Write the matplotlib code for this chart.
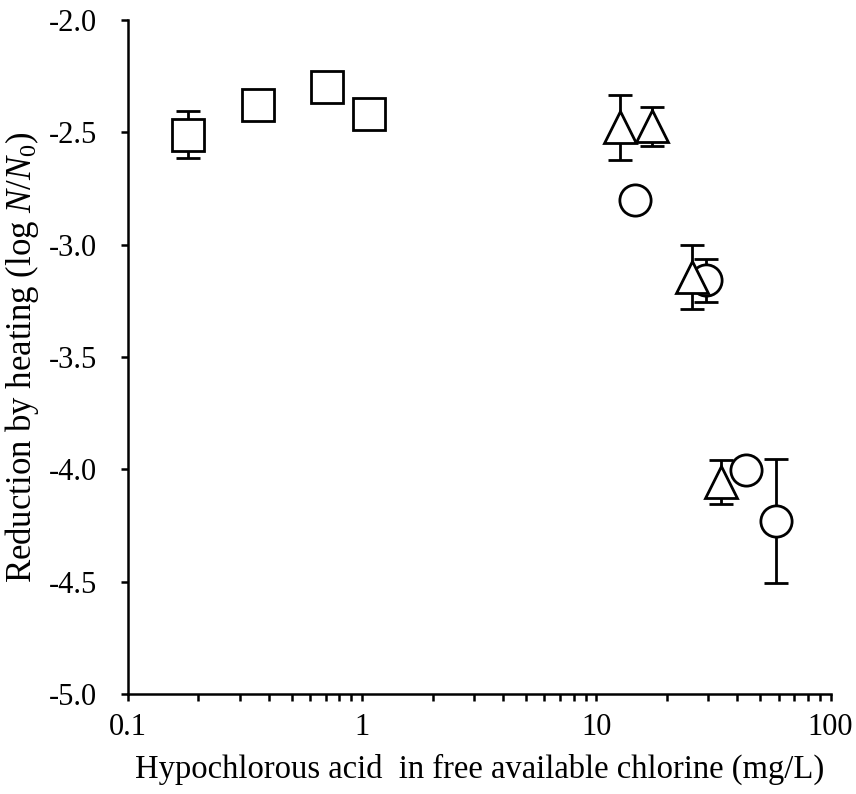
import matplotlib.pyplot as plt
from matplotlib.ticker import FixedLocator, LogLocator, NullFormatter

plt.rcParams['font.family'] = ['Liberation Serif', 'DejaVu Serif']
plt.rcParams['mathtext.fontset'] = 'custom'
plt.rcParams['mathtext.rm'] = 'Liberation Serif'
plt.rcParams['mathtext.it'] = 'Liberation Serif:italic'

# squares
sq_x = [0.18, 0.36, 0.71, 1.07]
sq_y = [-2.51, -2.38, -2.30, -2.42]
sq_err = [0.105, 0.0, 0.0, 0.0]

# triangles
tri_x = [12.6, 17.2, 25.5, 33.9]
tri_y = [-2.478, -2.472, -3.143, -4.056]
tri_err = [0.145, 0.087, 0.143, 0.098]

# circles
cir_x = [14.6, 29.4, 43.7, 58.2]
cir_y = [-2.80, -3.158, -4.003, -4.23]
cir_err = [0.0, 0.096, 0.0, 0.276]

fig = plt.figure(figsize=(8.56, 7.94), dpi=100)
ax = fig.add_axes([0.1495, 0.1259, 0.9703 - 0.1495, 0.9748 - 0.1259])

style = dict(linestyle='none', color='black', ecolor='black', elinewidth=2,
             capsize=8.5, capthick=2, markersize=22.5, markeredgewidth=2,
             markerfacecolor='white', markeredgecolor='black')

ax.errorbar(sq_x, sq_y, yerr=sq_err, fmt='s', zorder=3, **style)
ax.errorbar(cir_x, cir_y, yerr=cir_err, fmt='o', zorder=3, **style)
ax.errorbar(tri_x, tri_y, yerr=tri_err, fmt='^', zorder=4, **style)

ax.set_xscale('log')
ax.set_xlim(0.1, 100)
ax.set_ylim(-5.0, -2.0)

ax.xaxis.set_major_locator(FixedLocator([0.1, 1, 10, 100]))
ax.set_xticklabels(['0.1', '1', '10', '100'])
ax.xaxis.set_minor_locator(LogLocator(base=10, subs=range(2, 10)))
ax.xaxis.set_minor_formatter(NullFormatter())

yticks = [-5.0, -4.5, -4.0, -3.5, -3.0, -2.5, -2.0]
ax.set_yticks(yticks)
ax.set_yticklabels([f'{v:.1f}' for v in yticks])

for side in ['top', 'right']:
    ax.spines[side].set_visible(False)
for side in ['left', 'bottom']:
    ax.spines[side].set_linewidth(1.8)

ax.tick_params(axis='both', which='both', direction='out', length=5, width=1.8,
               labelsize=22)
ax.tick_params(axis='x', pad=9)
ax.tick_params(axis='y', pad=17)

ax.set_xlabel('Hypochlorous acid  in free available chlorine (mg/L)', fontsize=23.5, labelpad=8)
ax.set_ylabel(r'Reduction by heating (log $\mathit{N}$/$\mathit{N}_\mathit{0}$)', fontsize=25, labelpad=6)

fig.savefig('out.png', dpi=100)
